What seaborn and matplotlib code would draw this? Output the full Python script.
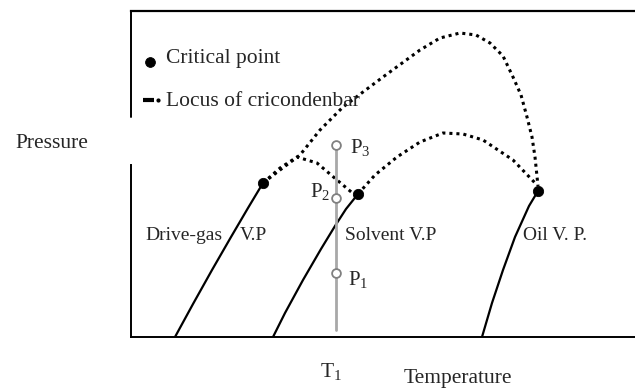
import matplotlib
matplotlib.use("Agg")
import matplotlib.pyplot as plt
import seaborn as sns

sns.set_style("white")
plt.rcParams['font.family'] = ['Liberation Serif', 'DejaVu Serif']
plt.rcParams['mathtext.fontset'] = 'custom'
plt.rcParams['mathtext.rm'] = 'Liberation Serif'
plt.rcParams['mathtext.it'] = 'Liberation Serif'

# ---- data (temperature / pressure, arbitrary units) ----
gas_T = [44, 62, 81, 100, 117, 132]
gas_P = [0, 33, 67, 100, 129, 154]
solv_T = [142, 154, 172, 190, 204, 215, 227]
solv_P = [0, 24, 57, 88, 111, 128, 143]
oil_T = [351, 361, 372, 384, 398, 407]
oil_P = [0, 34, 67, 100, 131, 146]

crit_T = [132, 227, 407]
crit_P = [154, 143, 146]

big_T = [132, 149, 169, 189, 212, 252, 289, 309, 329, 345, 359, 372, 382, 390, 396, 401, 404, 407]
big_P = [154, 167, 182, 207, 230, 260, 287, 299, 304, 302, 294, 281, 260, 242, 220, 200, 180, 151]

small_T = [132, 149, 166, 186, 206, 225]
small_P = [154, 169, 180, 174, 157, 141]

so_T = [227, 244, 266, 289, 312, 332, 352, 382, 406]
so_P = [143, 162, 180, 195, 204, 203, 197, 177, 152]

T1 = 205
iso_P = [7, 192]
pts_P = [64, 139, 192]
pts_labels = ["P$_1$", "P$_2$", "P$_3$"]

fig = plt.figure(figsize=(6.35, 3.89), dpi=100)
ax = fig.add_axes([131/635, 1 - 337/389, 1 - 131/635, (337 - 11)/389])
ax.set_xlim(0, 504)
ax.set_ylim(0, 326)

dot = (0, (1.0, 1.3))
for T, P in [(big_T, big_P), (small_T, small_P), (so_T, so_P)]:
    sns.lineplot(x=T, y=P, ax=ax, sort=False, estimator=None, color='black',
                 lw=2.2, linestyle=dot)
for T, P in [(gas_T, gas_P), (solv_T, solv_P), (oil_T, oil_P)]:
    sns.lineplot(x=T, y=P, ax=ax, sort=False, estimator=None, color='black', lw=1.6)

# isotherm T1
sns.lineplot(x=[T1, T1], y=iso_P, ax=ax, sort=False, estimator=None, color='#a8a8a8', lw=2)
sns.scatterplot(x=[T1] * len(pts_P), y=pts_P, ax=ax, s=40, color='white',
                edgecolor='#808080', linewidth=1.3, zorder=5)
sns.scatterplot(x=crit_T, y=crit_P, ax=ax, s=55, color='black', edgecolor='black', zorder=6)

# point labels
ax.text(T1 + 12, pts_P[0] - 6, pts_labels[0], fontsize=15, va='center', ha='left')
ax.text(T1 - 26, pts_P[1] + 7, pts_labels[1], fontsize=15, va='center', ha='left')
ax.text(T1 + 14, pts_P[2] - 3, pts_labels[2], fontsize=15, va='center', ha='left')

# curve labels
ax.text(14, 102, "Drive-gas", fontsize=14, va='center', ha='left')
ax.text(109, 102, "V.P", fontsize=14, va='center', ha='left')
ax.text(214, 102, "Solvent V.P", fontsize=14, va='center', ha='left')
ax.text(392, 102, "Oil V. P.", fontsize=14, va='center', ha='left')

# legend (drawn inside)
sns.scatterplot(x=[19], y=[275], ax=ax, s=50, color='black', edgecolor='black')
ax.text(35, 278, "Critical point", fontsize=15.5, va='center', ha='left')
ax.plot([12, 23], [237, 237], color='black', lw=3, solid_capstyle='butt')
ax.plot([27], [237], 'o', color='black', ms=2)
ax.text(35, 236, "Locus of cricondenbar", fontsize=15.5, va='center', ha='left')

# axis labels
ax.text(-79, 194, "Pressure", fontsize=15.5, va='center', ha='center', clip_on=False)
ax.text(327, -42, "Temperature", fontsize=15.5, va='center', ha='center', clip_on=False)
ax.text(200, -34, "T$_1$", fontsize=15.5, va='center', ha='center', clip_on=False)

# frame
ax.set_xticks([])
ax.set_yticks([])
ax.set_xlabel("")
ax.set_ylabel("")
ax.spines['right'].set_visible(False)
ax.spines['top'].set_linewidth(1.6)
ax.spines['bottom'].set_linewidth(1.4)
ax.spines['left'].set_linewidth(1.4)
for s in ['top', 'bottom', 'left']:
    ax.spines[s].set_color('black')
ax.spines['left'].set_bounds(0, 172)
ax.axvline(0, ymin=220/326, ymax=1, color='black', lw=1.4, clip_on=False)

fig.savefig("out.png", dpi=100)
